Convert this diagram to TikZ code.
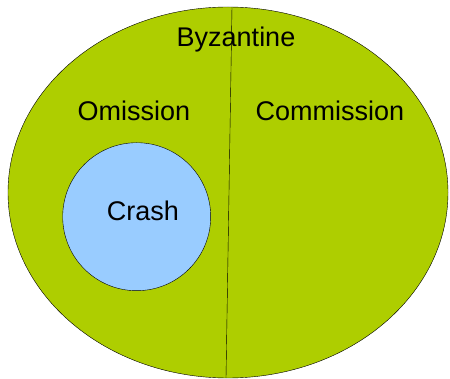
\documentclass[tikz,border=0pt]{standalone}
\usepackage{fontspec}
\setmainfont{Liberation Sans}
\usepackage{tikz}
\definecolor{byzgreen}{RGB}{174,206,0}
\definecolor{crashblue}{RGB}{153,204,255}

\begin{document}
\begin{tikzpicture}[x=1pt,y=-1pt,font=\fontsize{27}{30}\selectfont]
       \useasboundingbox (0,0) rectangle (450,379);
       \draw[fill=byzgreen,thin] (228,192.5) ellipse (220 and 185.5);
       \draw[thin] (232,7) -- (226,378);
       \draw[fill=crashblue,thin] (136.7,216.7) circle(74);
       \node (byz) at (236,40) {Byzantine};
       \node (om) at (134,111) {Omission};
       \node (com) at (330,111) {Commission};
       \node (crash) at (143,211) {Crash};
      \end{tikzpicture}
\end{document}
